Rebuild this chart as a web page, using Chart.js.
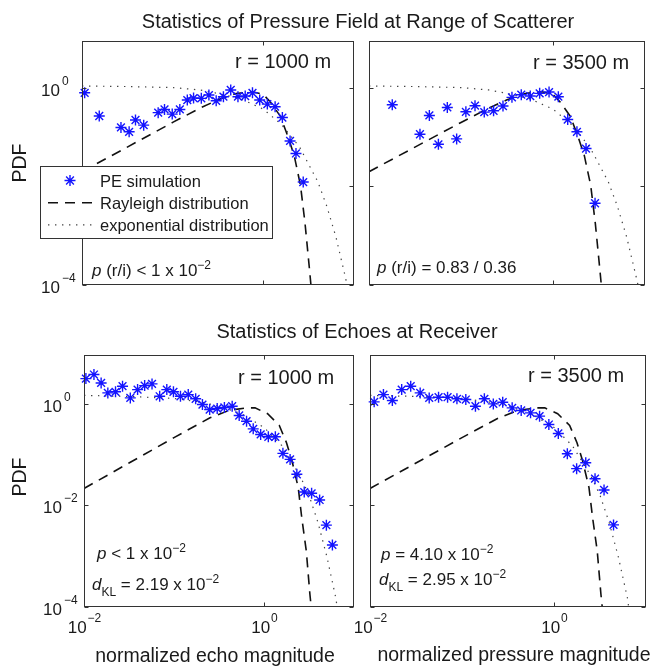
<!DOCTYPE html>
<html>
<head>
<meta charset="utf-8">
<title>PDF of pressure field and echoes</title>
<script src="https://cdn.jsdelivr.net/npm/chart.js@4.4.1/dist/chart.umd.min.js"></script>
<style>
  body { margin: 0; background: #fff; }
  #wrap { position: relative; width: 665px; height: 670px; overflow: hidden; }
  #wrap canvas { position: absolute; left: 0; top: 0; }
  .lbl { position: absolute; white-space: nowrap; color: #1a1a1a;
         font-family: "Liberation Sans", Arial, Helvetica, sans-serif; }
  .t20 { font-size: 20px; line-height: 20px; }
  .t19 { font-size: 19.5px; line-height: 19.5px; }
</style>
</head>
<body>
<div id="wrap">
  <canvas id="c1" width="665" height="670"></canvas>
  <canvas id="c2" width="665" height="670"></canvas>
  <canvas id="c3" width="665" height="670"></canvas>
  <canvas id="c4" width="665" height="670"></canvas>
  <div class="lbl t20" style="left:358px; top:11px; transform:translateX(-50%)">Statistics of Pressure Field at Range of Scatterer</div>
  <div class="lbl t20" style="left:357px; top:321px; transform:translateX(-50%)">Statistics of Echoes at Receiver</div>
  <div class="lbl t19" style="left:20px; top:163px; transform:translate(-50%,-50%) rotate(-90deg)">PDF</div>
  <div class="lbl t19" style="left:20px; top:477px; transform:translate(-50%,-50%) rotate(-90deg)">PDF</div>
  <div class="lbl t19" style="left:215px; top:646px; transform:translateX(-50%)">normalized echo magnitude</div>
  <div class="lbl t19" style="left:514px; top:645px; transform:translateX(-50%)">normalized pressure magnitude</div>
</div>
<script>
// axes
const xTicks = [0.01, 1];
const yTicks = [1e-4, 1e-2, 1];

// PE simulation, scatterer range, r = 1000 m
const tlSimX = [0.0107, 0.0155, 0.0269, 0.0331, 0.0389, 0.0479, 0.0692, 0.0813, 0.0989, 0.120, 0.145, 0.170, 0.207, 0.251,
  0.302, 0.363, 0.437, 0.525, 0.631, 0.759, 0.912, 1.107, 1.349, 1.622, 1.972, 2.291, 2.754];
const tlSimY = [0.80, 0.27, 0.158, 0.129, 0.224, 0.176, 0.316, 0.367, 0.295, 0.367, 0.569, 0.625, 0.617, 0.72,
  0.55, 0.665, 0.912, 0.665, 0.687, 0.80, 0.569, 0.471, 0.417, 0.251, 0.0841, 0.0468, 0.0123];

// PE simulation, scatterer range, r = 3500 m
const trSimX = [0.0179, 0.0358, 0.0453, 0.0568, 0.0710, 0.0897, 0.113, 0.142, 0.179, 0.226, 0.286, 0.358, 0.452, 0.566,
  0.716, 0.906, 1.143, 1.445, 1.820, 2.286, 2.864];
const trSimY = [0.457, 0.115, 0.277, 0.072, 0.403, 0.0925, 0.329, 0.437, 0.324, 0.344, 0.430, 0.646, 0.731, 0.687,
  0.778, 0.828, 0.665, 0.229, 0.129, 0.0589, 0.00457];

// PE simulation, echoes, r = 1000 m
const blSimX = [0.0105, 0.0129, 0.0155, 0.0184, 0.0224, 0.0268, 0.0327, 0.0394, 0.0472, 0.0570, 0.0693, 0.0832, 0.0986,
  0.118, 0.144, 0.174, 0.207, 0.249, 0.302, 0.363, 0.443, 0.530, 0.640, 0.759, 0.918, 1.117, 1.337, 1.622, 1.950, 2.317,
  2.799, 3.381, 4.150, 4.932, 5.754];
const blSimY = [3.09, 3.72, 2.54, 1.62, 1.70, 2.19, 1.29, 1.88, 2.25, 2.43, 1.39, 1.88, 1.70,
  1.39, 1.50, 1.24, 0.955, 0.762, 0.798, 0.836, 0.887, 0.582, 0.450, 0.318, 0.247, 0.222, 0.222, 0.105, 0.0798, 0.0406,
  0.0182, 0.0172, 0.0127, 0.00407, 0.00166];

// PE simulation, echoes, r = 3500 m
const brSimX = [0.0111, 0.0140, 0.0175, 0.0221, 0.0277, 0.0351, 0.0440, 0.0556, 0.0697, 0.0881, 0.110, 0.140, 0.175,
  0.219, 0.277, 0.351, 0.440, 0.556, 0.697, 0.879, 1.114, 1.396, 1.762, 2.213, 2.793, 3.499, 4.436];
const brSimY = [1.08, 1.50, 1.15, 1.88, 2.19, 1.62, 1.29, 1.33, 1.33, 1.24, 1.20, 0.887, 1.24,
  0.984, 1.06, 0.822, 0.730, 0.656, 0.565, 0.387, 0.258, 0.103, 0.0525, 0.0687, 0.0333, 0.0200, 0.00411];

// Rayleigh curves
const topRaylX = [0.01, 0.0316, 0.1, 0.1995, 0.316, 0.501, 0.759, 1.0, 1.202, 1.549, 1.905, 2.188, 2.570, 2.884, 3.236, 3.388];
const topRaylY = [0.0200, 0.0631, 0.200, 0.389, 0.575, 0.776, 0.841, 0.741, 0.513, 0.263, 0.0933, 0.0427, 0.0105, 0.00178, 0.0002, 0.0000794];
const botRaylX = [0.01, 0.0316, 0.1, 0.251, 0.417, 0.646, 0.794, 1.096, 1.479, 1.778, 2.042, 2.399, 2.630, 2.951, 3.236, 3.388];
const botRaylY = [0.0214, 0.0676, 0.214, 0.525, 0.741, 0.822, 0.822, 0.631, 0.372, 0.170, 0.0759, 0.0224, 0.00562, 0.00126, 0.000178, 0.0000794];

// exponential curves
const topExpX = [0.01, 0.0316, 0.1, 0.1995, 0.316, 0.562, 1.0, 1.585, 2.512, 3.162, 3.981, 5.012, 6.31, 7.943, 8.511];
const topExpY = [1.10, 1.07, 1.02, 0.912, 0.776, 0.603, 0.372, 0.182, 0.0631, 0.0282, 0.0126, 0.00398, 0.000955, 0.000158, 0.0000891];
const botExpX = [0.01, 0.0316, 0.1, 0.1995, 0.316, 0.562, 1.0, 1.585, 2.512, 3.162, 3.981, 5.012, 6.31, 6.53];
const botExpY = [1.445, 1.38, 1.26, 1.07, 0.891, 0.631, 0.339, 0.148, 0.038, 0.0158, 0.00457, 0.000955, 0.000145, 0.0000891];

const FONT = '"Liberation Sans", Arial, Helvetica, sans-serif';
const INK = '#1a1a1a';

function pts(xs, ys) {
  return xs.map((x, i) => ({ x: x, y: ys[i] }));
}

function expText(v) {
  const e = Math.round(Math.log10(v));
  return e < 0 ? '\u2212' + (-e) : String(e);
}

// draws a line of text with italic / superscript / subscript pieces
function richText(ctx, x, y, segs) {
  let cx = x;
  segs.forEach(s => {
    const small = s.sup || s.sub;
    ctx.font = (s.it ? 'italic ' : '') + (small ? 12 : 17) + 'px ' + FONT;
    ctx.fillText(s.t, cx, y + (s.sup ? -7 : s.sub ? 6 : 0));
    cx += ctx.measureText(s.t).width;
  });
}

function drawStar(ctx, x, y, r) {
  ctx.beginPath();
  for (let k = 0; k < 4; k++) {
    const a = k * Math.PI / 4;
    ctx.moveTo(x - r * Math.cos(a), y - r * Math.sin(a));
    ctx.lineTo(x + r * Math.cos(a), y + r * Math.sin(a));
  }
  ctx.stroke();
}

const panelPlugin = {
  id: 'panel',
  afterDatasetsDraw(chart, args, o) {
    const ctx = chart.ctx, a = chart.chartArea;
    const sx = chart.scales.x, sy = chart.scales.y;
    const L = Math.round(a.left) + 0.5, R = Math.round(a.right) - 0.5;
    const T = Math.round(a.top) + 0.5, B = Math.round(a.bottom) - 0.5;
    ctx.save();
    ctx.strokeStyle = '#333';
    ctx.lineWidth = 1;
    ctx.strokeRect(L, T, R - L, B - T);
    ctx.beginPath();
    xTicks.forEach(v => {
      const px = Math.round(sx.getPixelForValue(v)) + 0.5;
      ctx.moveTo(px, B); ctx.lineTo(px, B - 4);
      ctx.moveTo(px, T); ctx.lineTo(px, T + 4);
    });
    yTicks.forEach(v => {
      const py = Math.round(sy.getPixelForValue(v)) + 0.5;
      ctx.moveTo(L, py); ctx.lineTo(L + 4, py);
      ctx.moveTo(R, py); ctx.lineTo(R - 4, py);
    });
    ctx.stroke();

    ctx.fillStyle = INK;
    ctx.textBaseline = 'alphabetic';
    if (o.yLabels) {
      yTicks.forEach(v => {
        const py = sy.getPixelForValue(v);
        ctx.textAlign = 'right';
        ctx.font = '17px ' + FONT;
        ctx.fillText('10', a.left - 22, py + 8);
        ctx.textAlign = 'left';
        ctx.font = '12px ' + FONT;
        ctx.fillText(expText(v), a.left - 20, py - 3);
      });
    }
    if (o.xLabels) {
      xTicks.forEach(v => {
        const px = sx.getPixelForValue(v);
        ctx.textAlign = 'left';
        ctx.font = '17px ' + FONT;
        const w1 = ctx.measureText('10').width;
        ctx.font = '12px ' + FONT;
        const w2 = ctx.measureText(expText(v)).width;
        const x0 = px - (w1 + w2) / 2;
        ctx.font = '17px ' + FONT;
        ctx.fillText('10', x0, a.bottom + 26);
        ctx.font = '12px ' + FONT;
        ctx.fillText(expText(v), x0 + w1 + 1, a.bottom + 15);
      });
    }

    ctx.textAlign = 'left';
    ctx.font = '20px ' + FONT;
    ctx.fillText(o.range.t, o.range.x, o.range.y);
    o.notes.forEach(n => richText(ctx, n.x, n.y, n.segs));
    ctx.restore();
  },
  afterDraw(chart, args, o) {
    if (!o.legend) return;
    const ctx = chart.ctx, box = o.legend;
    const ds = chart.data.datasets;
    ctx.save();
    ctx.fillStyle = '#fff';
    ctx.fillRect(box.x, box.y, box.w, box.h);
    ctx.strokeStyle = '#333';
    ctx.lineWidth = 1;
    ctx.strokeRect(box.x + 0.5, box.y + 0.5, box.w, box.h);
    ds.forEach((d, i) => {
      const cy = box.y + 14.5 + i * 22.2;
      if (d.showLine) {
        ctx.strokeStyle = d.borderColor;
        ctx.lineWidth = d.borderWidth;
        ctx.setLineDash(d.borderDash);
        ctx.beginPath();
        ctx.moveTo(box.x + 8, cy);
        ctx.lineTo(box.x + 57, cy);
        ctx.stroke();
        ctx.setLineDash([]);
      } else {
        ctx.strokeStyle = d.borderColor;
        ctx.lineWidth = d.pointBorderWidth;
        drawStar(ctx, box.x + 30, cy, d.pointRadius);
      }
      ctx.fillStyle = INK;
      ctx.font = '16.5px ' + FONT;
      ctx.fillText(d.label, box.x + 60, cy + 6);
    });
    ctx.restore();
  }
};

const panels = [
  { id: 'c1', area: [82, 41, 354, 285], sim: [tlSimX, tlSimY], ray: [topRaylX, topRaylY], exp: [topExpX, topExpY],
    yLabels: true, xLabels: false, legend: { x: 40, y: 166, w: 232, h: 72 },
    range: { t: 'r = 1000 m', x: 235, y: 68 },
    notes: [{ x: 92, y: 276, segs: [{ t: 'p', it: true }, { t: ' (r/i) < 1 x 10' }, { t: '\u22122', sup: true }] }] },
  { id: 'c2', area: [369, 41, 645, 285], sim: [trSimX, trSimY], ray: [topRaylX, topRaylY], exp: [topExpX, topExpY],
    yLabels: false, xLabels: false, legend: null,
    range: { t: 'r = 3500 m', x: 533, y: 69 },
    notes: [{ x: 377, y: 273, segs: [{ t: 'p', it: true }, { t: ' (r/i) = 0.83 / 0.36' }] }] },
  { id: 'c3', area: [84, 355, 354, 607], sim: [blSimX, blSimY], ray: [botRaylX, botRaylY], exp: [botExpX, botExpY],
    yLabels: true, xLabels: true, legend: null,
    range: { t: 'r = 1000 m', x: 238, y: 384 },
    notes: [
      { x: 97, y: 559, segs: [{ t: 'p', it: true }, { t: ' < 1 x 10' }, { t: '\u22122', sup: true }] },
      { x: 92, y: 590, segs: [{ t: 'd', it: true }, { t: 'KL', sub: true }, { t: ' = 2.19 x 10' }, { t: '\u22122', sup: true }] }] },
  { id: 'c4', area: [370, 355, 646, 607], sim: [brSimX, brSimY], ray: [botRaylX, botRaylY], exp: [botExpX, botExpY],
    yLabels: false, xLabels: true, legend: null,
    range: { t: 'r = 3500 m', x: 528, y: 382 },
    notes: [
      { x: 381, y: 560, segs: [{ t: 'p', it: true }, { t: ' = 4.10 x 10' }, { t: '\u22122', sup: true }] },
      { x: 379, y: 585, segs: [{ t: 'd', it: true }, { t: 'KL', sub: true }, { t: ' = 2.95 x 10' }, { t: '\u22122', sup: true }] }] }
];

panels.forEach(p => {
  const [l, t, r, b] = p.area;
  new Chart(document.getElementById(p.id), {
    type: 'scatter',
    data: {
      datasets: [
        {
          label: 'PE simulation',
          data: pts(p.sim[0], p.sim[1]),
          showLine: false,
          pointStyle: 'star',
          pointRadius: 5.5,
          pointBorderWidth: 1.4,
          borderColor: 'rgb(20,20,255)',
          backgroundColor: 'rgb(20,20,255)',
          clip: false
        },
        {
          label: 'Rayleigh distribution',
          data: pts(p.ray[0], p.ray[1]),
          showLine: true,
          pointRadius: 0,
          borderColor: '#111',
          borderWidth: 1.6,
          borderDash: [10, 7],
          tension: 0,
          clip: 0
        },
        {
          label: 'exponential distribution',
          data: pts(p.exp[0], p.exp[1]),
          showLine: true,
          pointRadius: 0,
          borderColor: '#444',
          borderWidth: 1.2,
          borderDash: [1.4, 5.6],
          tension: 0,
          clip: 0
        }
      ]
    },
    options: {
      responsive: false,
      animation: false,
      devicePixelRatio: 1,
      layout: { padding: { left: l, top: t, right: 665 - r, bottom: 670 - b } },
      scales: {
        x: { type: 'logarithmic', min: 0.01, max: 10, display: false },
        y: { type: 'logarithmic', min: 1e-4, max: 9, display: false }
      },
      plugins: {
        legend: { display: false },
        tooltip: { enabled: false },
        panel: { yLabels: p.yLabels, xLabels: p.xLabels, legend: p.legend, range: p.range, notes: p.notes }
      }
    },
    plugins: [panelPlugin]
  });
});
</script>
</body>
</html>
